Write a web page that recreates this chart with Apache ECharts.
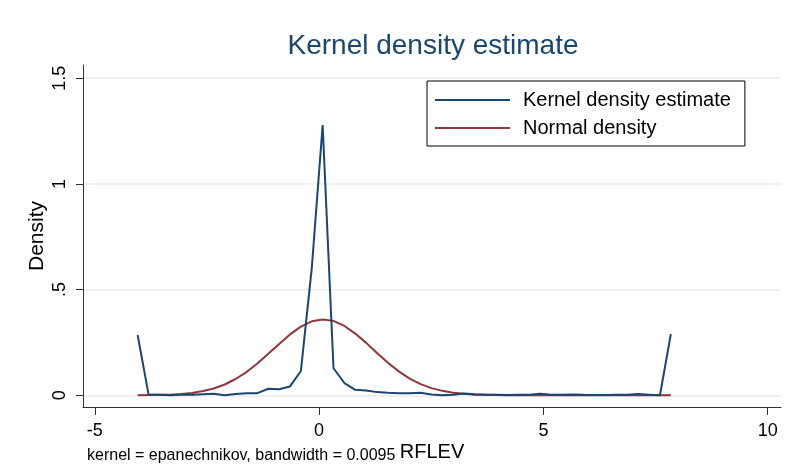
<!DOCTYPE html>
<html>
<head>
<meta charset="utf-8">
<title>Kernel density estimate</title>
<script src="https://cdn.jsdelivr.net/npm/echarts@6/dist/echarts.min.js"></script>
<style>
  html, body { margin: 0; padding: 0; background: #fff; }
  #main { width: 790px; height: 470px; }
</style>
</head>
<body>
<div id="main"></div>
<script>
// evaluation points of the density (RFLEV)
const xPoints = [
  -4.045, -3.802, -3.560, -3.317, -3.075, -2.832, -2.589, -2.347, -2.104, -1.862,
  -1.619, -1.376, -1.134, -0.891, -0.649, -0.406, -0.164, 0.079, 0.321, 0.564,
  0.806, 1.049, 1.291, 1.534, 1.776, 2.019, 2.262, 2.504, 2.747, 2.989,
  3.232, 3.474, 3.717, 3.960, 4.202, 4.445, 4.687, 4.930, 5.172, 5.415,
  5.658, 5.900, 6.143, 6.385, 6.628, 6.870, 7.113, 7.355, 7.598, 7.840
];
const kernelDensity = [
  0.285, 0.004, 0.002, 0.000, 0.002, 0.003, 0.005, 0.007, 0.000, 0.006,
  0.010, 0.010, 0.031, 0.029, 0.042, 0.115, 0.600, 1.278, 0.128, 0.058,
  0.026, 0.023, 0.015, 0.012, 0.010, 0.010, 0.012, 0.004, 0.000, 0.003,
  0.008, 0.005, 0.003, 0.002, 0.001, 0.002, 0.003, 0.007, 0.003, 0.002,
  0.004, 0.002, 0.001, 0.001, 0.002, 0.003, 0.006, 0.003, 0.000, 0.289
];
const normalDensity = [
  0.000, 0.001, 0.002, 0.003, 0.006, 0.011, 0.020, 0.032, 0.051, 0.077,
  0.110, 0.150, 0.196, 0.243, 0.288, 0.325, 0.350, 0.359, 0.352, 0.328,
  0.292, 0.248, 0.200, 0.154, 0.113, 0.079, 0.053, 0.034, 0.021, 0.012,
  0.007, 0.003, 0.002, 0.001, 0.000, 0.000, 0.000, 0.000, 0.000, 0.000,
  0.000, 0.000, 0.000, 0.000, 0.000, 0.000, 0.000, 0.000, 0.000, 0.000
];
const xTicks = [-5, 0, 5, 10];
const yTicks = [0, 0.5, 1, 1.5];
const seriesNames = ['Kernel density estimate', 'Normal density'];

const FONT = '"Liberation Sans", Arial, sans-serif';

function pairs(ys) {
  return xPoints.map((x, i) => [x, ys[i]]);
}

function yLabel(v) {
  // stata style: .5 instead of 0.5
  if (v > 0 && v < 1) return String(v).replace(/^0/, '');
  return String(v);
}

const chart = echarts.init(document.getElementById('main'), null, { renderer: 'canvas' });

chart.setOption({
  animation: false,
  backgroundColor: '#fff',
  grid: { left: 83, right: 9, top: 65, bottom: 63, containLabel: false },
  graphic: [
    {
      type: 'text', x: 433, y: 46,
      style: {
        text: 'Kernel density estimate', align: 'center', verticalAlign: 'middle',
        font: '28px ' + FONT, fill: '#1a476f'
      }
    },
    {
      type: 'text', x: 87, y: 456,
      style: {
        text: 'kernel = epanechnikov, bandwidth = 0.0095', align: 'left', verticalAlign: 'middle',
        font: '16px ' + FONT, fill: '#000'
      }
    }
  ],
  legend: {
    orient: 'vertical',
    left: 427, top: 81,
    padding: [9, 14, 8, 8],
    itemGap: 8,
    icon: 'rect',
    itemWidth: 75, itemHeight: 2,
    borderColor: '#000', borderWidth: 1,
    textStyle: {
      fontFamily: FONT, fontSize: 20, color: '#000',
      padding: [0, 0, 0, 8], lineHeight: 20
    },
    data: seriesNames
  },
  xAxis: {
    type: 'value',
    min: -5.263, max: 10.296,
    name: 'RFLEV',
    nameLocation: 'middle',
    nameGap: 35,
    nameMoveOverlap: false,
    nameTextStyle: { fontFamily: FONT, fontSize: 20, color: '#000' },
    axisLine: { show: true, onZero: false, lineStyle: { color: '#333', width: 1 } },
    axisTick: { show: true, length: 8, customValues: xTicks, lineStyle: { color: '#333' } },
    axisLabel: { customValues: xTicks, margin: 15, fontFamily: FONT, fontSize: 18, color: '#000' },
    splitLine: { show: false }
  },
  yAxis: {
    type: 'value',
    min: -0.0554, max: 1.5625,
    name: 'Density',
    nameLocation: 'middle',
    nameRotate: 90,
    nameGap: 35,
    nameMoveOverlap: false,
    nameTextStyle: { fontFamily: FONT, fontSize: 21, color: '#000' },
    axisLine: { show: true, onZero: false, lineStyle: { color: '#333', width: 1 } },
    axisTick: { show: true, length: 7, customValues: yTicks, lineStyle: { color: '#333' } },
    axisLabel: {
      customValues: yTicks, rotate: 90, margin: 14,
      fontFamily: FONT, fontSize: 18, color: '#000',
      formatter: yLabel
    },
    splitLine: { show: true, lineStyle: { color: '#e6eef0', width: 1.5 } }
  },
  series: [
    {
      name: seriesNames[0],
      type: 'line',
      data: pairs(kernelDensity),
      showSymbol: false, symbol: 'none',
      lineStyle: { color: '#1a476f', width: 2 },
      itemStyle: { color: '#1a476f' },
      z: 3
    },
    {
      name: seriesNames[1],
      type: 'line',
      data: pairs(normalDensity),
      showSymbol: false, symbol: 'none',
      lineStyle: { color: '#90353b', width: 2 },
      itemStyle: { color: '#90353b' },
      z: 2
    }
  ]
});
</script>
</body>
</html>
